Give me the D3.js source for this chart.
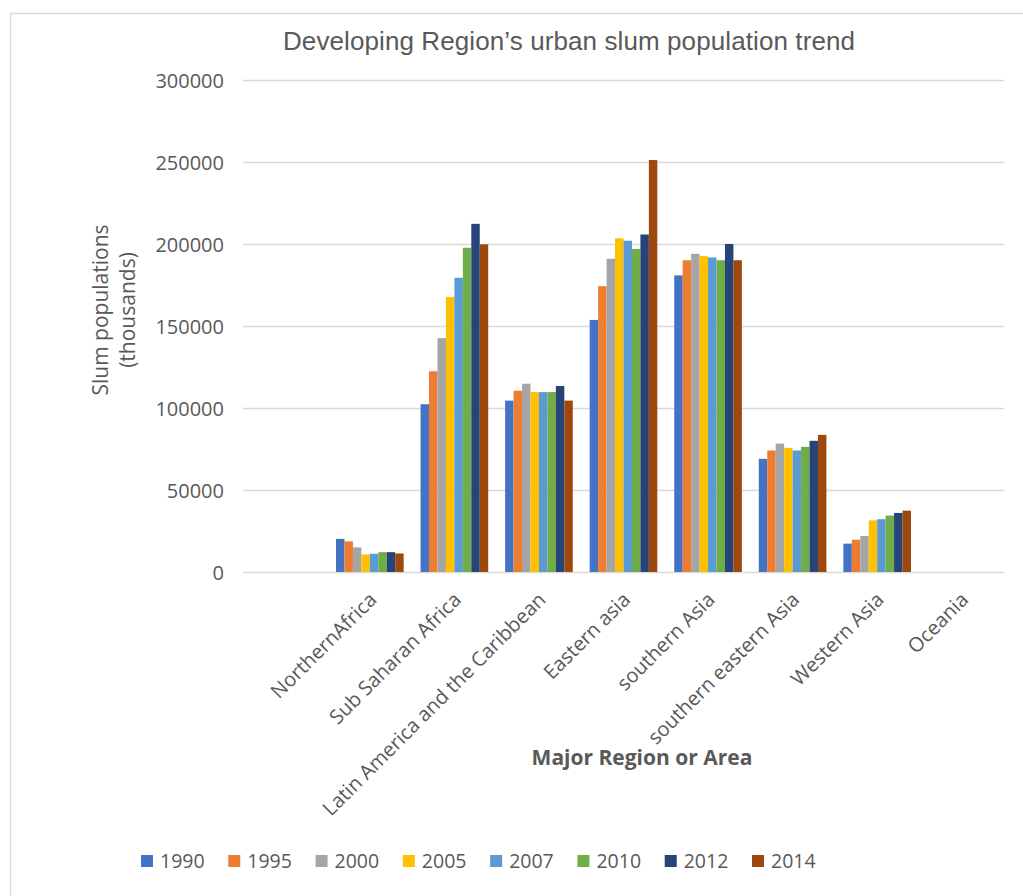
<!DOCTYPE html>
<html>
<head>
<meta charset="utf-8">
<script src="https://cdn.jsdelivr.net/npm/d3@7"></script>
<style>
  html, body { margin: 0; padding: 0; background: #ffffff; }
  svg { display: block; }
</style>
</head>
<body>
<svg id="chart" width="1023" height="896"></svg>
<script>
// Regions (the first slot is an unlabelled, empty category)
const regions = ["", "NorthernAfrica", "Sub Saharan Africa", "Latin America and the Caribbean",
  "Eastern asia", "southern Asia", "southern eastern Asia", "Western Asia", "Oceania"];

const years = ["1990", "1995", "2000", "2005", "2007", "2010", "2012", "2014"];

// Slum population (thousands) per year, one value per region
const v1990 = [null, 20200, 102300, 104500, 153700, 180900, 69000, 17300, null];
const v1995 = [null, 18700, 122400, 110500, 174300, 190100, 74100, 19700, null];
const v2000 = [null, 15000, 142600, 114800, 191000, 194000, 78300, 22000, null];
const v2005 = [null, 10700, 167700, 109700, 203500, 192600, 75700, 31500, null];
const v2007 = [null, 11100, 179400, 109700, 202000, 191800, 74100, 32200, null];
const v2010 = [null, 12100, 197700, 109700, 197000, 190100, 76300, 34400, null];
const v2012 = [null, 12100, 212300, 113400, 205800, 200000, 80000, 36000, null];
const v2014 = [null, 11300, 199800, 104500, 251200, 190100, 83600, 37400, null];

const seriesValues = [v1990, v1995, v2000, v2005, v2007, v2010, v2012, v2014];

const yTicks = [0, 50000, 100000, 150000, 200000, 250000, 300000];

const colors = ["#4472C4", "#ED7D31", "#A5A5A5", "#FFC000", "#5B9BD5", "#70AD47", "#264478", "#9E480E"];

const svg = d3.select("#chart");
const textColor = "#595959";
const bodyFont = "'Open Sans', Lato, sans-serif";

// Outer chart frame
svg.append("rect")
  .attr("x", 10.5).attr("y", 13.5)
  .attr("width", 1030).attr("height", 900)
  .attr("fill", "#ffffff")
  .attr("stroke", "#D9D9D9").attr("stroke-width", 1.5);

const plot = { left: 243, right: 1004, top: 80, bottom: 572 };

const x0 = d3.scaleBand()
  .domain(regions.map((d, i) => i))
  .range([plot.left, plot.right])
  .paddingInner(0.2)
  .paddingOuter(0.1);

const x1 = d3.scaleBand()
  .domain(years)
  .range([0, x0.bandwidth()]);

const y = d3.scaleLinear()
  .domain([0, 300000])
  .range([plot.bottom, plot.top]);

// Horizontal gridlines
svg.append("g")
  .selectAll("line")
  .data(yTicks)
  .join("line")
  .attr("x1", plot.left).attr("x2", plot.right)
  .attr("y1", d => Math.round(y(d)) + 0.5)
  .attr("y2", d => Math.round(y(d)) + 0.5)
  .attr("stroke", "#D9D9D9")
  .attr("stroke-width", 1.5);

// Y axis labels
const yAxis = d3.axisLeft(y).tickValues(yTicks).tickSize(0).tickPadding(0).tickFormat(d3.format("d"));
const yAxisG = svg.append("g")
  .attr("transform", `translate(${224},0)`)
  .call(yAxis);
yAxisG.select(".domain").remove();
yAxisG.selectAll("text")
  .attr("fill", textColor)
  .attr("font-family", bodyFont)
  .attr("font-size", 20)
  .attr("dy", "0.35em");

// Bars
const groups = svg.append("g")
  .selectAll("g")
  .data(regions.map((r, i) => i))
  .join("g")
  .attr("transform", i => `translate(${x0(i)},0)`);

groups.selectAll("rect")
  .data(i => years.map((yr, k) => ({ yr, k, v: seriesValues[k][i] })).filter(d => d.v != null))
  .join("rect")
  .attr("x", d => x1(d.yr))
  .attr("width", x1.bandwidth())
  .attr("y", d => y(d.v))
  .attr("height", d => y(0) - y(d.v))
  .attr("fill", d => colors[d.k]);

// Category labels, rotated
const xAxis = d3.axisBottom(x0).tickSize(0).tickPadding(0).tickFormat(i => regions[i]);
const xAxisG = svg.append("g")
  .attr("transform", `translate(0,${plot.bottom})`)
  .call(xAxis);
xAxisG.select(".domain").remove();
xAxisG.selectAll("text")
  .attr("fill", textColor)
  .attr("font-family", bodyFont)
  .attr("font-size", 20)
  .attr("text-anchor", "end")
  .attr("dy", 0)
  .attr("y", 0)
  .attr("transform", "translate(8,29) rotate(-45)");

// Chart title
svg.append("text")
  .attr("x", 569).attr("y", 50)
  .attr("text-anchor", "middle")
  .attr("fill", textColor)
  .attr("font-family", "'Liberation Sans', Arial, sans-serif")
  .attr("font-size", 26)
  .attr("textLength", 572)
  .text("Developing Region’s urban slum population trend");

// Y axis title (two lines)
const yTitle = svg.append("text")
  .attr("transform", "translate(108,310) rotate(-90)")
  .attr("text-anchor", "middle")
  .attr("fill", textColor)
  .attr("font-family", bodyFont)
  .attr("font-size", 21);
yTitle.append("tspan").attr("x", 0).attr("y", 0).text("Slum populations");
yTitle.append("tspan").attr("x", 0).attr("y", 27).text("(thousands)");

// X axis title
svg.append("text")
  .attr("x", 642).attr("y", 765)
  .attr("text-anchor", "middle")
  .attr("fill", textColor)
  .attr("font-family", bodyFont)
  .attr("font-weight", "bold")
  .attr("font-size", 21)
  .text("Major Region or Area");

// Legend
const legendX = d3.scalePoint().domain(years).range([141, 752]);
const legend = svg.append("g")
  .selectAll("g")
  .data(years)
  .join("g")
  .attr("transform", d => `translate(${legendX(d)},861)`);
legend.append("rect")
  .attr("x", 0).attr("y", -6)
  .attr("width", 12).attr("height", 12)
  .attr("fill", (d, i) => colors[i]);
legend.append("text")
  .attr("x", 19).attr("y", 0)
  .attr("dy", "0.35em")
  .attr("fill", textColor)
  .attr("font-family", bodyFont)
  .attr("font-size", 19.5)
  .text(d => d);
</script>
</body>
</html>
